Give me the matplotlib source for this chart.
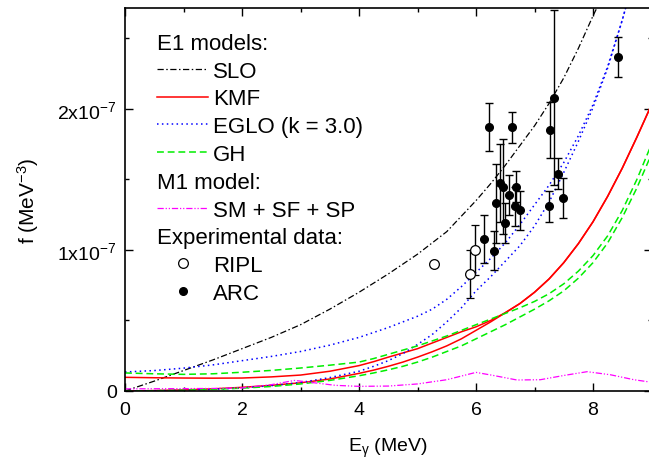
import numpy as np
import matplotlib
matplotlib.use('Agg')
from matplotlib import pyplot as plt
from matplotlib.lines import Line2D

plt.rcParams['font.family'] = ['Liberation Sans', 'DejaVu Sans']
plt.rcParams['mathtext.fontset'] = 'custom'
plt.rcParams['mathtext.rm'] = 'Liberation Sans'
plt.rcParams['mathtext.it'] = 'Liberation Sans:italic'

# -----------------------------------------------------------------------------
# Strength functions (units of 1e-7 MeV^-3)

e_slo = [0, 0.5, 1, 1.5, 2, 2.5, 3, 3.5, 4, 4.5, 5, 5.5, 6, 6.25, 6.5, 6.75,
         7, 7.25, 7.5, 7.75, 8, 8.07]
f_slo = [0, 0.07, 0.145, 0.22, 0.30, 0.38, 0.47, 0.58, 0.70, 0.83, 0.97,
         1.13, 1.35, 1.47, 1.60, 1.74, 1.88, 2.04, 2.22, 2.43, 2.66, 2.72]

e_grid = [0, 0.5, 1, 1.5, 2, 2.5, 3, 3.5, 4, 4.25, 4.5, 4.75, 5, 5.25, 5.5,
          5.75, 6, 6.25, 6.5, 6.75, 7, 7.25, 7.5, 7.75, 8, 8.25, 8.5, 8.75, 9]

f_kmf_a = [0.097, 0.094, 0.092, 0.091, 0.092, 0.10, 0.113, 0.14, 0.18, 0.208,
           0.24, 0.27, 0.30, 0.34, 0.38, 0.42, 0.455, 0.50, 0.555, 0.62, 0.70,
           0.795, 0.91, 1.045, 1.20, 1.38, 1.58, 1.80, 2.03]
f_kmf_b = [0.0, 0.003, 0.008, 0.015, 0.026, 0.04, 0.058, 0.085, 0.125, 0.148,
           0.175, 0.205, 0.24, 0.278, 0.32, 0.37, 0.43, 0.49, 0.555, 0.62,
           0.70, 0.795, 0.91, 1.045, 1.20, 1.38, 1.58, 1.80, 2.03]

f_gh_a = [0.128, 0.122, 0.118, 0.122, 0.133, 0.146, 0.163, 0.183, 0.205, 0.23,
          0.26, 0.29, 0.32, 0.355, 0.39, 0.43, 0.47, 0.51, 0.55, 0.59, 0.635,
          0.69, 0.76, 0.85, 0.96, 1.10, 1.28, 1.50, 1.75]
f_gh_b = [0.0, 0.002, 0.006, 0.012, 0.02, 0.032, 0.05, 0.075, 0.108, 0.128,
          0.15, 0.175, 0.205, 0.24, 0.28, 0.32, 0.37, 0.42, 0.47, 0.525, 0.58,
          0.64, 0.71, 0.80, 0.91, 1.05, 1.23, 1.44, 1.68]

e_eglo = [0, 0.5, 1, 1.5, 2, 2.5, 3, 3.5, 4, 4.25, 4.5, 4.75, 5, 5.25, 5.5,
          5.75, 6, 6.25, 6.5, 6.75, 7, 7.25, 7.5, 7.75, 8, 8.25, 8.5, 8.56]
f_eglo_a = [0.135, 0.145, 0.162, 0.185, 0.215, 0.245, 0.28, 0.325, 0.38,
            0.415, 0.45, 0.49, 0.53, 0.58, 0.65, 0.74, 0.84, 0.94, 1.05, 1.18,
            1.32, 1.46, 1.62, 1.81, 2.03, 2.30, 2.63, 2.72]
f_eglo_b = [0.0, 0.002, 0.006, 0.012, 0.022, 0.038, 0.06, 0.095, 0.14, 0.175,
            0.215, 0.265, 0.33, 0.40, 0.49, 0.59, 0.71, 0.81, 0.92, 1.03, 1.17,
            1.34, 1.55, 1.77, 2.01, 2.29, 2.63, 2.72]

e_m1 = [0, 0.5, 1, 1.5, 2, 2.5, 2.9, 3.2, 3.6, 4, 4.5, 5, 5.5, 6, 6.3, 6.7,
        7.1, 7.5, 7.9, 8.3, 8.7, 9]
f_m1 = [0.015, 0.016, 0.017, 0.018, 0.022, 0.045, 0.075, 0.06, 0.04, 0.033,
        0.035, 0.05, 0.08, 0.132, 0.11, 0.078, 0.08, 0.11, 0.137, 0.115,
        0.08, 0.062]

# Experimental points
e_ripl = [5.29, 5.89, 5.99]
f_ripl = [0.90, 0.83, 1.00]
df_ripl = [0.0, 0.17, 0.18]

e_arc = [6.23, 6.61, 7.34, 7.26, 7.40, 7.48, 7.25, 6.41, 6.47, 6.34, 6.56,
         6.68, 6.67, 6.76, 6.50, 6.14, 6.30, 8.43]
f_arc = [1.87, 1.87, 2.08, 1.85, 1.54, 1.37, 1.31, 1.475, 1.45, 1.33, 1.39,
         1.45, 1.31, 1.28, 1.19, 1.08, 0.995, 2.37]
df_arc = [0.17, 0.11, 0.62, 0.20, 0.11, 0.14, 0.11, 0.28, 0.34, 0.28, 0.14,
          0.11, 0.14, 0.14, 0.14, 0.17, 0.14, 0.14]

y_ticks = [0, 1e-7, 2e-7]
y_tick_labels = ['0', r'1x10$^{-7}$', r'2x10$^{-7}$']
x_ticks = [0, 2, 4, 6, 8]

scale = 1e-7

# -----------------------------------------------------------------------------
# Plotting

figure = plt.figure(figsize=(6.49, 4.64), dpi=100)
ax = figure.add_axes([125 / 649, 72 / 464, 526.5 / 649, 383 / 464])

ls_slo = (0, (5, 2, 1.2, 2))
ls_eglo = (0, (1, 2.2))
ls_gh = (0, (4.5, 2.5))
ls_m1 = (0, (5, 1.5, 1, 1.5, 1, 1.5))

ax.plot(e_slo, np.array(f_slo) * scale, color='k', lw=0.9, ls=ls_slo)
ax.plot(e_grid, np.array(f_kmf_a) * scale, color='#ff0000', lw=1.1)
ax.plot(e_grid, np.array(f_kmf_b) * scale, color='#ff0000', lw=1.1)
ax.plot(e_eglo, np.array(f_eglo_a) * scale, color='#0000ff', lw=1.1,
        ls=ls_eglo)
ax.plot(e_eglo, np.array(f_eglo_b) * scale, color='#0000ff', lw=1.1,
        ls=ls_eglo)
ax.plot(e_grid, np.array(f_gh_a) * scale, color='#00ee00', lw=1.1, ls=ls_gh)
ax.plot(e_grid, np.array(f_gh_b) * scale, color='#00ee00', lw=1.1, ls=ls_gh)
ax.plot(e_m1, np.array(f_m1) * scale, color='#ff00ff', lw=0.9, ls=ls_m1)

ax.errorbar(e_ripl, np.array(f_ripl) * scale, yerr=np.array(df_ripl) * scale,
            fmt='o', ms=7, mfc='white', mec='k', mew=0.9, ecolor='k',
            elinewidth=1, capsize=3, capthick=1, zorder=5)
ax.errorbar(e_arc, np.array(f_arc) * scale, yerr=np.array(df_arc) * scale,
            fmt='o', ms=5.5, color='k', ecolor='k', elinewidth=1, capsize=3,
            capthick=1, zorder=6)

ax.set_xlim(0, 9)
ax.set_ylim(0, 2.716e-7)
ax.set_xticks(x_ticks)
ax.set_xticks([1, 3, 5, 7, 9], minor=True)
ax.set_yticks(y_ticks)
ax.set_yticklabels(y_tick_labels)
ax.set_yticks([0.5e-7, 1.5e-7, 2.5e-7], minor=True)
ax.tick_params(which='both', direction='in', top=True, right=True,
               labelsize=14, width=1)
ax.tick_params(axis='x', pad=7)
ax.tick_params(axis='y', pad=6)
ax.tick_params(which='major', length=5.5)
ax.tick_params(which='minor', length=3)
for spine in ax.spines.values():
    spine.set_linewidth(1.2)

ax.set_xlabel(r'E$_\mathregular{γ}$ (MeV)', fontsize=14, labelpad=13)
ax.set_ylabel(r'f (MeV$^{-3}$)', fontsize=15, labelpad=12)

# Legend with group headers

blank = Line2D([], [], ls='none')
handles = [blank,
           Line2D([], [], color='k', lw=0.9, ls=ls_slo),
           Line2D([], [], color='#ff0000', lw=1.1),
           Line2D([], [], color='#0000ff', lw=1.1, ls=ls_eglo),
           Line2D([], [], color='#00ee00', lw=1.1, ls=ls_gh),
           blank,
           Line2D([], [], color='#ff00ff', lw=0.9, ls=ls_m1),
           blank,
           Line2D([], [], ls='none', marker='o', ms=7, mfc='white',
                  mec='k', mew=0.9),
           Line2D([], [], ls='none', marker='o', ms=5.5, color='k')]
labels = [' ', 'SLO', 'KMF', 'EGLO (k = 3.0)', 'GH', ' ', 'SM + SF + SP',
          ' ', 'RIPL', 'ARC']
headers = {0: 'E1 models:', 5: 'M1 model:', 7: 'Experimental data:'}

legend = ax.legend(handles, labels, loc='upper left',
                   bbox_to_anchor=(0.061, 0.935), frameon=False, fontsize=16,
                   handlelength=2.3, handletextpad=0.2, labelspacing=0.305,
                   borderpad=0, borderaxespad=0, numpoints=1)

figure.canvas.draw()
renderer = figure.canvas.get_renderer()
x0 = legend.get_window_extent(renderer).x0
texts = legend.get_texts()
for row, header in headers.items():
    box = texts[row].get_window_extent(renderer)
    y_mid = 0.5 * (box.y0 + box.y1)
    xa, ya = ax.transAxes.inverted().transform((x0, y_mid))
    ax.text(xa, ya, header, transform=ax.transAxes, fontsize=16,
            va='center', ha='left')

figure.savefig('out.png', dpi=100)
